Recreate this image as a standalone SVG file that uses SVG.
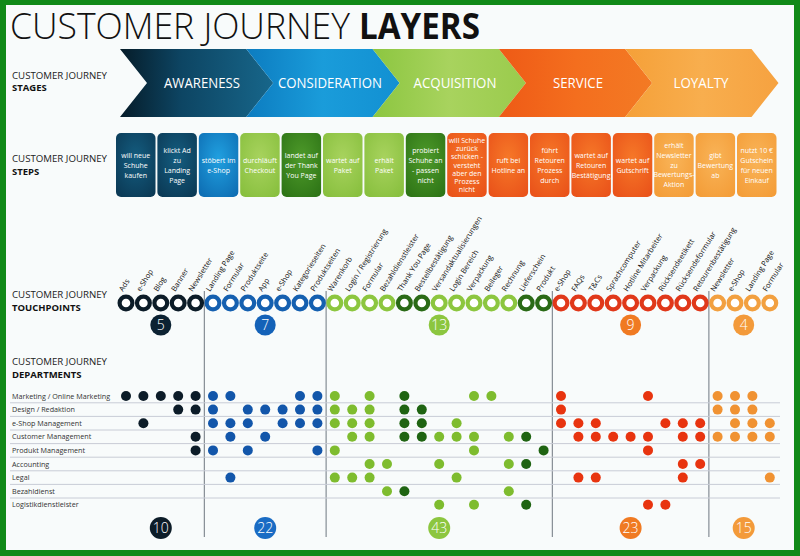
<svg xmlns="http://www.w3.org/2000/svg" width="800" height="556" viewBox="0 0 800 556">
<defs>
<linearGradient id="gAw" x1="0" y1="0" x2="1" y2="0"><stop offset="0" stop-color="#061c29"/><stop offset="0.4" stop-color="#0d4563"/><stop offset="1" stop-color="#17668a"/></linearGradient>
<linearGradient id="gCo" x1="0" y1="0" x2="1" y2="0"><stop offset="0" stop-color="#0c7cc0"/><stop offset="0.5" stop-color="#1a9cda"/><stop offset="1" stop-color="#1290d2"/></linearGradient>
<linearGradient id="gAc" x1="0" y1="0" x2="1" y2="0"><stop offset="0" stop-color="#8cc640"/><stop offset="0.5" stop-color="#a8d35e"/><stop offset="1" stop-color="#9acb4c"/></linearGradient>
<linearGradient id="gSe" x1="0" y1="0" x2="1" y2="0"><stop offset="0" stop-color="#ee5a16"/><stop offset="0.5" stop-color="#f46e1e"/><stop offset="1" stop-color="#f37a24"/></linearGradient>
<linearGradient id="gLo" x1="0" y1="0" x2="1" y2="0"><stop offset="0" stop-color="#f5a038"/><stop offset="0.5" stop-color="#f8ae4e"/><stop offset="1" stop-color="#f6a240"/></linearGradient>
<radialGradient id="bNv" cx="0.5" cy="0.4" r="0.8"><stop offset="0" stop-color="#145d80"/><stop offset="1" stop-color="#0a3550"/></radialGradient>
<radialGradient id="bBl" cx="0.5" cy="0.4" r="0.8"><stop offset="0" stop-color="#20a0e0"/><stop offset="1" stop-color="#0c68ae"/></radialGradient>
<radialGradient id="bLg" cx="0.5" cy="0.4" r="0.8"><stop offset="0" stop-color="#a8d35e"/><stop offset="1" stop-color="#84bd3a"/></radialGradient>
<radialGradient id="bDg" cx="0.5" cy="0.4" r="0.8"><stop offset="0" stop-color="#4e9a2a"/><stop offset="1" stop-color="#2a7014"/></radialGradient>
<radialGradient id="bRd" cx="0.5" cy="0.4" r="0.8"><stop offset="0" stop-color="#f67828"/><stop offset="1" stop-color="#e84e18"/></radialGradient>
<radialGradient id="bOr" cx="0.5" cy="0.4" r="0.8"><stop offset="0" stop-color="#f9b458"/><stop offset="1" stop-color="#f39a34"/></radialGradient>
</defs>
<style>
text{font-family:"Open Sans","Noto Sans","Liberation Sans",sans-serif}
.lab{font-size:9px;fill:#222}
.labb{font-size:9.5px;font-weight:bold;fill:#111}
.stg{font-size:14px;fill:#fff;text-anchor:middle}
.stp{font-size:7px;fill:#fff;text-anchor:middle}
.tpl{font-size:7.5px;fill:#111}
.ring{fill:#fff;stroke-width:4.2}
.raw{stroke:#0c1c28}.rco{stroke:#1560b0}.ral{stroke:#8cc63f}.rad{stroke:#2a6a16}.rse{stroke:#e0381a}.rlo{stroke:#f2a040}
.aw{fill:#0c1c28}.co{fill:#1256aa}.al{fill:#7ebc2e}.ad{fill:#1f6412}.se{fill:#e8340f}.lo{fill:#f09232}
.bdg{font-size:14px;fill:#fff;text-anchor:middle;font-weight:300}
.dep{font-size:7.2px;fill:#333}
.sep{stroke:#c8ccd6;stroke-width:1}
.div{stroke:#6e7780;stroke-width:1}
</style>
<rect x="0" y="0" width="800" height="556" fill="#118a18"/>
<rect x="6" y="5" width="788" height="545" fill="#f8fbfb"/>

<g id="title">
<text x="10" y="39" font-size="36" font-weight="300" fill="#111" textLength="340" lengthAdjust="spacingAndGlyphs">CUSTOMER JOURNEY</text>
<text x="359" y="39" font-size="36" font-weight="bold" fill="#111" textLength="121" lengthAdjust="spacingAndGlyphs">LAYERS</text>
</g>

<g id="row-labels">
<text class="lab" x="12" y="79" textLength="95" lengthAdjust="spacingAndGlyphs">CUSTOMER JOURNEY</text>
<text class="labb" x="12" y="91">STAGES</text>
<text class="lab" x="12" y="162" textLength="95" lengthAdjust="spacingAndGlyphs">CUSTOMER JOURNEY</text>
<text class="labb" x="12" y="175">STEPS</text>
<text class="lab" x="12" y="298" textLength="95" lengthAdjust="spacingAndGlyphs">CUSTOMER JOURNEY</text>
<text class="labb" x="12" y="311">TOUCHPOINTS</text>
<text class="lab" x="12" y="365" textLength="95" lengthAdjust="spacingAndGlyphs">CUSTOMER JOURNEY</text>
<text class="labb" x="12" y="378">DEPARTMENTS</text>
</g>

<g id="stage-awareness"><path d="M120,49 L246.3,49 L273.3,83 L246.3,117 L120,117 L147,83 Z" fill="url(#gAw)"/><text class="stg" x="202" y="88" textLength="76" lengthAdjust="spacingAndGlyphs">AWARENESS</text></g>
<g id="stage-consideration"><path d="M246.3,49 L372.6,49 L399.6,83 L372.6,117 L246.3,117 L273.3,83 Z" fill="url(#gCo)"/><text class="stg" x="330" y="88" textLength="104" lengthAdjust="spacingAndGlyphs">CONSIDERATION</text></g>
<g id="stage-acquisition"><path d="M372.6,49 L498.9,49 L525.9,83 L498.9,117 L372.6,117 L399.6,83 Z" fill="url(#gAc)"/><text class="stg" x="455" y="88" textLength="83" lengthAdjust="spacingAndGlyphs">ACQUISITION</text></g>
<g id="stage-service"><path d="M498.9,49 L625.2,49 L652.2,83 L625.2,117 L498.9,117 L525.9,83 Z" fill="url(#gSe)"/><text class="stg" x="578" y="88" textLength="50" lengthAdjust="spacingAndGlyphs">SERVICE</text></g>
<g id="stage-loyalty"><path d="M625.2,49 L751.5,49 L778.5,83 L751.5,117 L625.2,117 L652.2,83 Z" fill="url(#gLo)"/><text class="stg" x="701" y="88" textLength="55" lengthAdjust="spacingAndGlyphs">LOYALTY</text></g>

<g id="step-1"><rect x="116" y="133" width="39.5" height="64" rx="5" fill="url(#bNv)"/><text class="stp" x="135.75" y="157.5">will neue<tspan x="135.75" dy="10">Schuhe</tspan><tspan x="135.75" dy="10">kaufen</tspan></text></g>
<g id="step-2"><rect x="157.4" y="133" width="39.5" height="64" rx="5" fill="url(#bNv)"/><text class="stp" x="177.15" y="152.5">klickt Ad<tspan x="177.15" dy="10">zu</tspan><tspan x="177.15" dy="10">Landing</tspan><tspan x="177.15" dy="10">Page</tspan></text></g>
<g id="step-3"><rect x="198.8" y="133" width="39.5" height="64" rx="5" fill="url(#bBl)"/><text class="stp" x="218.55" y="162.5">stöbert im<tspan x="218.55" dy="10">e-Shop</tspan></text></g>
<g id="step-4"><rect x="240.2" y="133" width="39.5" height="64" rx="5" fill="url(#bLg)"/><text class="stp" x="259.95" y="162.5">durchläuft<tspan x="259.95" dy="10">Checkout</tspan></text></g>
<g id="step-5"><rect x="281.6" y="133" width="39.5" height="64" rx="5" fill="url(#bDg)"/><text class="stp" x="301.35" y="157.5">landet auf<tspan x="301.35" dy="10">der Thank</tspan><tspan x="301.35" dy="10">You Page</tspan></text></g>
<g id="step-6"><rect x="323" y="133" width="39.5" height="64" rx="5" fill="url(#bLg)"/><text class="stp" x="342.75" y="162.5">wartet auf<tspan x="342.75" dy="10">Paket</tspan></text></g>
<g id="step-7"><rect x="364.4" y="133" width="39.5" height="64" rx="5" fill="url(#bLg)"/><text class="stp" x="384.15" y="162.5">erhält<tspan x="384.15" dy="10">Paket</tspan></text></g>
<g id="step-8"><rect x="405.8" y="133" width="39.5" height="64" rx="5" fill="url(#bDg)"/><text class="stp" x="425.55" y="152.5">probiert<tspan x="425.55" dy="10">Schuhe an</tspan><tspan x="425.55" dy="10">- passen</tspan><tspan x="425.55" dy="10">nicht</tspan></text></g>
<g id="step-9"><rect x="447.2" y="133" width="39.5" height="64" rx="5" fill="url(#bRd)"/><text class="stp" x="466.95" y="142.6" font-size="6.5">will Schuhe<tspan x="466.95" dy="8.3">zurück</tspan><tspan x="466.95" dy="8.3">schicken -</tspan><tspan x="466.95" dy="8.3">versteht</tspan><tspan x="466.95" dy="8.3">aber den</tspan><tspan x="466.95" dy="8.3">Prozess</tspan><tspan x="466.95" dy="8.3">nicht</tspan></text></g>
<g id="step-10"><rect x="488.6" y="133" width="39.5" height="64" rx="5" fill="url(#bRd)"/><text class="stp" x="508.35" y="162.5">ruft bei<tspan x="508.35" dy="10">Hotline an</tspan></text></g>
<g id="step-11"><rect x="530" y="133" width="39.5" height="64" rx="5" fill="url(#bRd)"/><text class="stp" x="549.75" y="152.5">führt<tspan x="549.75" dy="10">Retouren</tspan><tspan x="549.75" dy="10">Prozess</tspan><tspan x="549.75" dy="10">durch</tspan></text></g>
<g id="step-12"><rect x="571.4" y="133" width="39.5" height="64" rx="5" fill="url(#bRd)"/><text class="stp" x="591.15" y="157.5">wartet auf<tspan x="591.15" dy="10">Retouren</tspan><tspan x="591.15" dy="10">Bestätigung</tspan></text></g>
<g id="step-13"><rect x="612.8" y="133" width="39.5" height="64" rx="5" fill="url(#bRd)"/><text class="stp" x="632.55" y="162.5">wartet auf<tspan x="632.55" dy="10">Gutschrift</tspan></text></g>
<g id="step-14"><rect x="654.2" y="133" width="39.5" height="64" rx="5" fill="url(#bOr)"/><text class="stp" x="673.95" y="148.3" font-size="6.5">erhält<tspan x="673.95" dy="9.6">Newsletter</tspan><tspan x="673.95" dy="9.6">zu</tspan><tspan x="673.95" dy="9.6">Bewertungs-</tspan><tspan x="673.95" dy="9.6">Aktion</tspan></text></g>
<g id="step-15"><rect x="695.6" y="133" width="39.5" height="64" rx="5" fill="url(#bOr)"/><text class="stp" x="715.35" y="157.5">gibt<tspan x="715.35" dy="10">Bewertung</tspan><tspan x="715.35" dy="10">ab</tspan></text></g>
<g id="step-16"><rect x="737" y="133" width="39.5" height="64" rx="5" fill="url(#bOr)"/><text class="stp" x="756.75" y="152.5">nutzt 10 €<tspan x="756.75" dy="10">Gutschein</tspan><tspan x="756.75" dy="10">für neuen</tspan><tspan x="756.75" dy="10">Einkauf</tspan></text></g>

<g id="connectors">
<line class="div" x1="204.3" y1="291" x2="204.3" y2="537"/>
<line class="div" x1="326.1" y1="291" x2="326.1" y2="537"/>
<line class="div" x1="552.3" y1="291" x2="552.3" y2="537"/>
<line class="div" x1="708.9" y1="291" x2="708.9" y2="537"/>
</g>

<g id="touchpoints">
<g id="tp-0"><circle class="ring raw" cx="126" cy="303" r="6.4"/><text class="tpl" transform="translate(123,292) rotate(-58)">Ads</text></g>
<g id="tp-1"><circle class="ring raw" cx="143.4" cy="303" r="6.4"/><text class="tpl" transform="translate(140.4,292) rotate(-58)">e-Shop</text></g>
<g id="tp-2"><circle class="ring raw" cx="160.8" cy="303" r="6.4"/><text class="tpl" transform="translate(157.8,292) rotate(-58)">Blog</text></g>
<g id="tp-3"><circle class="ring raw" cx="178.2" cy="303" r="6.4"/><text class="tpl" transform="translate(175.2,292) rotate(-58)">Banner</text></g>
<g id="tp-4"><circle class="ring raw" cx="195.6" cy="303" r="6.4"/><text class="tpl" transform="translate(192.6,292) rotate(-58)">Newsletter</text></g>
<g id="tp-5"><circle class="ring rco" cx="213" cy="303" r="6.4"/><text class="tpl" transform="translate(210,292) rotate(-58)">Landing Page</text></g>
<g id="tp-6"><circle class="ring rco" cx="230.4" cy="303" r="6.4"/><text class="tpl" transform="translate(227.4,292) rotate(-58)">Formular</text></g>
<g id="tp-7"><circle class="ring rco" cx="247.8" cy="303" r="6.4"/><text class="tpl" transform="translate(244.8,292) rotate(-58)">Produktseite</text></g>
<g id="tp-8"><circle class="ring rco" cx="265.2" cy="303" r="6.4"/><text class="tpl" transform="translate(262.2,292) rotate(-58)">App</text></g>
<g id="tp-9"><circle class="ring rco" cx="282.6" cy="303" r="6.4"/><text class="tpl" transform="translate(279.6,292) rotate(-58)">e-Shop</text></g>
<g id="tp-10"><circle class="ring rco" cx="300" cy="303" r="6.4"/><text class="tpl" transform="translate(297,292) rotate(-58)">Kategorieseiten</text></g>
<g id="tp-11"><circle class="ring rco" cx="317.4" cy="303" r="6.4"/><text class="tpl" transform="translate(314.4,292) rotate(-58)">Produktseiten</text></g>
<g id="tp-12"><circle class="ring ral" cx="334.8" cy="303" r="6.4"/><text class="tpl" transform="translate(331.8,292) rotate(-58)">Warenkorb</text></g>
<g id="tp-13"><circle class="ring ral" cx="352.2" cy="303" r="6.4"/><text class="tpl" transform="translate(349.2,292) rotate(-58)">Login / Registrierung</text></g>
<g id="tp-14"><circle class="ring ral" cx="369.6" cy="303" r="6.4"/><text class="tpl" transform="translate(366.6,292) rotate(-58)">Formular</text></g>
<g id="tp-15"><circle class="ring ral" cx="387" cy="303" r="6.4"/><text class="tpl" transform="translate(384,292) rotate(-58)">Bezahldienstleister</text></g>
<g id="tp-16"><circle class="ring rad" cx="404.4" cy="303" r="6.4"/><text class="tpl" transform="translate(401.4,292) rotate(-58)">Thank You Page</text></g>
<g id="tp-17"><circle class="ring rad" cx="421.8" cy="303" r="6.4"/><text class="tpl" transform="translate(418.8,292) rotate(-58)">Bestellbestätigung</text></g>
<g id="tp-18"><circle class="ring ral" cx="439.2" cy="303" r="6.4"/><text class="tpl" transform="translate(436.2,292) rotate(-58)">Versandaktualisierungen</text></g>
<g id="tp-19"><circle class="ring ral" cx="456.6" cy="303" r="6.4"/><text class="tpl" transform="translate(453.6,292) rotate(-58)">Login Bereich</text></g>
<g id="tp-20"><circle class="ring ral" cx="474" cy="303" r="6.4"/><text class="tpl" transform="translate(471,292) rotate(-58)">Verpackung</text></g>
<g id="tp-21"><circle class="ring ral" cx="491.4" cy="303" r="6.4"/><text class="tpl" transform="translate(488.4,292) rotate(-58)">Beileger</text></g>
<g id="tp-22"><circle class="ring ral" cx="508.8" cy="303" r="6.4"/><text class="tpl" transform="translate(505.8,292) rotate(-58)">Rechnung</text></g>
<g id="tp-23"><circle class="ring rad" cx="526.2" cy="303" r="6.4"/><text class="tpl" transform="translate(523.2,292) rotate(-58)">Lieferschein</text></g>
<g id="tp-24"><circle class="ring rad" cx="543.6" cy="303" r="6.4"/><text class="tpl" transform="translate(540.6,292) rotate(-58)">Produkt</text></g>
<g id="tp-25"><circle class="ring rse" cx="561" cy="303" r="6.4"/><text class="tpl" transform="translate(558,292) rotate(-58)">e-Shop</text></g>
<g id="tp-26"><circle class="ring rse" cx="578.4" cy="303" r="6.4"/><text class="tpl" transform="translate(575.4,292) rotate(-58)">FAQs</text></g>
<g id="tp-27"><circle class="ring rse" cx="595.8" cy="303" r="6.4"/><text class="tpl" transform="translate(592.8,292) rotate(-58)">T&amp;Cs</text></g>
<g id="tp-28"><circle class="ring rse" cx="613.2" cy="303" r="6.4"/><text class="tpl" transform="translate(610.2,292) rotate(-58)">Sprachcomputer</text></g>
<g id="tp-29"><circle class="ring rse" cx="630.6" cy="303" r="6.4"/><text class="tpl" transform="translate(627.6,292) rotate(-58)">Hotline Mitarbeiter</text></g>
<g id="tp-30"><circle class="ring rse" cx="648" cy="303" r="6.4"/><text class="tpl" transform="translate(645,292) rotate(-58)">Verpackung</text></g>
<g id="tp-31"><circle class="ring rse" cx="665.4" cy="303" r="6.4"/><text class="tpl" transform="translate(662.4,292) rotate(-58)">Rücksendeetikett</text></g>
<g id="tp-32"><circle class="ring rse" cx="682.8" cy="303" r="6.4"/><text class="tpl" transform="translate(679.8,292) rotate(-58)">Rücksendeformular</text></g>
<g id="tp-33"><circle class="ring rse" cx="700.2" cy="303" r="6.4"/><text class="tpl" transform="translate(697.2,292) rotate(-58)">Retourenbestätigung</text></g>
<g id="tp-34"><circle class="ring rlo" cx="717.6" cy="303" r="6.4"/><text class="tpl" transform="translate(714.6,292) rotate(-58)">Newsletter</text></g>
<g id="tp-35"><circle class="ring rlo" cx="735" cy="303" r="6.4"/><text class="tpl" transform="translate(732,292) rotate(-58)">e-Shop</text></g>
<g id="tp-36"><circle class="ring rlo" cx="752.4" cy="303" r="6.4"/><text class="tpl" transform="translate(749.4,292) rotate(-58)">Landing Page</text></g>
<g id="tp-37"><circle class="ring rlo" cx="769.8" cy="303" r="6.4"/><text class="tpl" transform="translate(766.8,292) rotate(-58)">Formular</text></g>
</g>

<g id="touchpoint-counts">
<g id="tc-aw"><circle cx="160.8" cy="325" r="10.5" fill="#0c2232"/><text class="bdg" x="160.8" y="330">5</text></g>
<g id="tc-co"><circle cx="265.2" cy="325" r="10.5" fill="#1462b8"/><text class="bdg" x="265.2" y="330">7</text></g>
<g id="tc-ac"><circle cx="439.2" cy="325" r="10.5" fill="#8cc63f"/><text class="bdg" x="439.2" y="330">13</text></g>
<g id="tc-se"><circle cx="630.6" cy="325" r="10.5" fill="#f07a22"/><text class="bdg" x="630.6" y="330">9</text></g>
<g id="tc-lo"><circle cx="743.7" cy="325" r="10.5" fill="#f39a3a"/><text class="bdg" x="743.7" y="330">4</text></g>
</g>

<g id="departments">
<g id="grid">
<line class="sep" x1="10" y1="402.8" x2="780" y2="402.8"/>
<line class="sep" x1="10" y1="416.4" x2="780" y2="416.4"/>
<line class="sep" x1="10" y1="430" x2="780" y2="430"/>
<line class="sep" x1="10" y1="443.6" x2="780" y2="443.6"/>
<line class="sep" x1="10" y1="457.2" x2="780" y2="457.2"/>
<line class="sep" x1="10" y1="470.8" x2="780" y2="470.8"/>
<line class="sep" x1="10" y1="484.4" x2="780" y2="484.4"/>
<line class="sep" x1="10" y1="498" x2="780" y2="498"/>
</g>
<g id="dep-marketing"><text class="dep" x="12" y="398.6">Marketing / Online Marketing</text>
<circle class="aw" cx="126" cy="396" r="5"/><circle class="aw" cx="143.4" cy="396" r="5"/><circle class="aw" cx="160.8" cy="396" r="5"/><circle class="aw" cx="178.2" cy="396" r="5"/><circle class="aw" cx="195.6" cy="396" r="5"/>
<circle class="co" cx="213" cy="396" r="5"/><circle class="co" cx="230.4" cy="396" r="5"/><circle class="co" cx="300" cy="396" r="5"/><circle class="co" cx="317.4" cy="396" r="5"/>
<circle class="al" cx="334.8" cy="396" r="5"/><circle class="al" cx="369.6" cy="396" r="5"/><circle class="ad" cx="404.4" cy="396" r="5"/><circle class="al" cx="474" cy="396" r="5"/><circle class="al" cx="491.4" cy="396" r="5"/>
<circle class="se" cx="561" cy="396" r="5"/><circle class="se" cx="648" cy="396" r="5"/>
<circle class="lo" cx="717.6" cy="396" r="5"/><circle class="lo" cx="735" cy="396" r="5"/><circle class="lo" cx="752.4" cy="396" r="5"/></g>
<g id="dep-design"><text class="dep" x="12" y="412.2">Design / Redaktion</text>
<circle class="aw" cx="178.2" cy="409.6" r="5"/><circle class="aw" cx="195.6" cy="409.6" r="5"/>
<circle class="co" cx="213" cy="409.6" r="5"/><circle class="co" cx="247.8" cy="409.6" r="5"/><circle class="co" cx="265.2" cy="409.6" r="5"/><circle class="co" cx="282.6" cy="409.6" r="5"/><circle class="co" cx="300" cy="409.6" r="5"/><circle class="co" cx="317.4" cy="409.6" r="5"/>
<circle class="al" cx="334.8" cy="409.6" r="5"/><circle class="al" cx="352.2" cy="409.6" r="5"/><circle class="al" cx="369.6" cy="409.6" r="5"/><circle class="ad" cx="404.4" cy="409.6" r="5"/><circle class="ad" cx="421.8" cy="409.6" r="5"/>
<circle class="se" cx="561" cy="409.6" r="5"/>
<circle class="lo" cx="717.6" cy="409.6" r="5"/><circle class="lo" cx="735" cy="409.6" r="5"/><circle class="lo" cx="752.4" cy="409.6" r="5"/></g>
<g id="dep-eshop"><text class="dep" x="12" y="425.8">e-Shop Management</text>
<circle class="aw" cx="143.4" cy="423.2" r="5"/>
<circle class="co" cx="213" cy="423.2" r="5"/><circle class="co" cx="230.4" cy="423.2" r="5"/><circle class="co" cx="247.8" cy="423.2" r="5"/><circle class="co" cx="282.6" cy="423.2" r="5"/><circle class="co" cx="300" cy="423.2" r="5"/><circle class="co" cx="317.4" cy="423.2" r="5"/>
<circle class="al" cx="334.8" cy="423.2" r="5"/><circle class="al" cx="352.2" cy="423.2" r="5"/><circle class="al" cx="369.6" cy="423.2" r="5"/><circle class="ad" cx="404.4" cy="423.2" r="5"/><circle class="ad" cx="421.8" cy="423.2" r="5"/><circle class="al" cx="456.6" cy="423.2" r="5"/>
<circle class="se" cx="561" cy="423.2" r="5"/><circle class="se" cx="578.4" cy="423.2" r="5"/><circle class="se" cx="595.8" cy="423.2" r="5"/><circle class="se" cx="665.4" cy="423.2" r="5"/><circle class="se" cx="682.8" cy="423.2" r="5"/><circle class="se" cx="700.2" cy="423.2" r="5"/>
<circle class="lo" cx="735" cy="423.2" r="5"/><circle class="lo" cx="752.4" cy="423.2" r="5"/><circle class="lo" cx="769.8" cy="423.2" r="5"/></g>
<g id="dep-customer"><text class="dep" x="12" y="439.4">Customer Management</text>
<circle class="aw" cx="195.6" cy="436.8" r="5"/>
<circle class="co" cx="230.4" cy="436.8" r="5"/><circle class="co" cx="265.2" cy="436.8" r="5"/>
<circle class="al" cx="352.2" cy="436.8" r="5"/><circle class="al" cx="369.6" cy="436.8" r="5"/><circle class="ad" cx="404.4" cy="436.8" r="5"/><circle class="ad" cx="421.8" cy="436.8" r="5"/><circle class="al" cx="439.2" cy="436.8" r="5"/><circle class="al" cx="456.6" cy="436.8" r="5"/><circle class="al" cx="474" cy="436.8" r="5"/><circle class="al" cx="508.8" cy="436.8" r="5"/><circle class="ad" cx="526.2" cy="436.8" r="5"/>
<circle class="se" cx="578.4" cy="436.8" r="5"/><circle class="se" cx="595.8" cy="436.8" r="5"/><circle class="se" cx="613.2" cy="436.8" r="5"/><circle class="se" cx="630.6" cy="436.8" r="5"/><circle class="se" cx="648" cy="436.8" r="5"/><circle class="se" cx="682.8" cy="436.8" r="5"/><circle class="se" cx="700.2" cy="436.8" r="5"/>
<circle class="lo" cx="717.6" cy="436.8" r="5"/><circle class="lo" cx="735" cy="436.8" r="5"/><circle class="lo" cx="752.4" cy="436.8" r="5"/><circle class="lo" cx="769.8" cy="436.8" r="5"/></g>
<g id="dep-produkt"><text class="dep" x="12" y="453">Produkt Management</text>
<circle class="aw" cx="195.6" cy="450.4" r="5"/>
<circle class="co" cx="213" cy="450.4" r="5"/><circle class="co" cx="247.8" cy="450.4" r="5"/><circle class="co" cx="317.4" cy="450.4" r="5"/>
<circle class="al" cx="334.8" cy="450.4" r="5"/><circle class="al" cx="474" cy="450.4" r="5"/><circle class="ad" cx="543.6" cy="450.4" r="5"/>
<circle class="se" cx="648" cy="450.4" r="5"/></g>
<g id="dep-accounting"><text class="dep" x="12" y="466.6">Accounting</text>
<circle class="al" cx="369.6" cy="464" r="5"/><circle class="al" cx="387" cy="464" r="5"/><circle class="al" cx="439.2" cy="464" r="5"/><circle class="al" cx="508.8" cy="464" r="5"/><circle class="ad" cx="526.2" cy="464" r="5"/>
<circle class="se" cx="682.8" cy="464" r="5"/><circle class="se" cx="700.2" cy="464" r="5"/></g>
<g id="dep-legal"><text class="dep" x="12" y="480.2">Legal</text>
<circle class="co" cx="230.4" cy="477.6" r="5"/>
<circle class="al" cx="334.8" cy="477.6" r="5"/><circle class="al" cx="352.2" cy="477.6" r="5"/><circle class="al" cx="369.6" cy="477.6" r="5"/><circle class="al" cx="456.6" cy="477.6" r="5"/>
<circle class="se" cx="578.4" cy="477.6" r="5"/><circle class="se" cx="595.8" cy="477.6" r="5"/><circle class="se" cx="682.8" cy="477.6" r="5"/>
<circle class="lo" cx="769.8" cy="477.6" r="5"/></g>
<g id="dep-bezahl"><text class="dep" x="12" y="493.8">Bezahldienst</text>
<circle class="al" cx="387" cy="491.2" r="5"/><circle class="ad" cx="404.4" cy="491.2" r="5"/><circle class="al" cx="508.8" cy="491.2" r="5"/></g>
<g id="dep-logistik"><text class="dep" x="12" y="507.4">Logistikdienstleister</text>
<circle class="al" cx="439.2" cy="504.8" r="5"/><circle class="al" cx="474" cy="504.8" r="5"/><circle class="ad" cx="526.2" cy="504.8" r="5"/>
<circle class="se" cx="648" cy="504.8" r="5"/><circle class="se" cx="665.4" cy="504.8" r="5"/></g>
</g>

<g id="department-counts">
<g id="dc-aw"><circle cx="160.8" cy="528" r="11" fill="#0c1c28"/><text class="bdg" x="160.8" y="533">10</text></g>
<g id="dc-co"><circle cx="265.2" cy="528" r="11" fill="#1a6cc4"/><text class="bdg" x="265.2" y="533">22</text></g>
<g id="dc-ac"><circle cx="439.2" cy="528" r="11" fill="#8cc63f"/><text class="bdg" x="439.2" y="533">43</text></g>
<g id="dc-se"><circle cx="630.6" cy="528" r="11" fill="#f07a22"/><text class="bdg" x="630.6" y="533">23</text></g>
<g id="dc-lo"><circle cx="743.7" cy="528" r="11" fill="#f39a3a"/><text class="bdg" x="743.7" y="533">15</text></g>
</g>
</svg>
